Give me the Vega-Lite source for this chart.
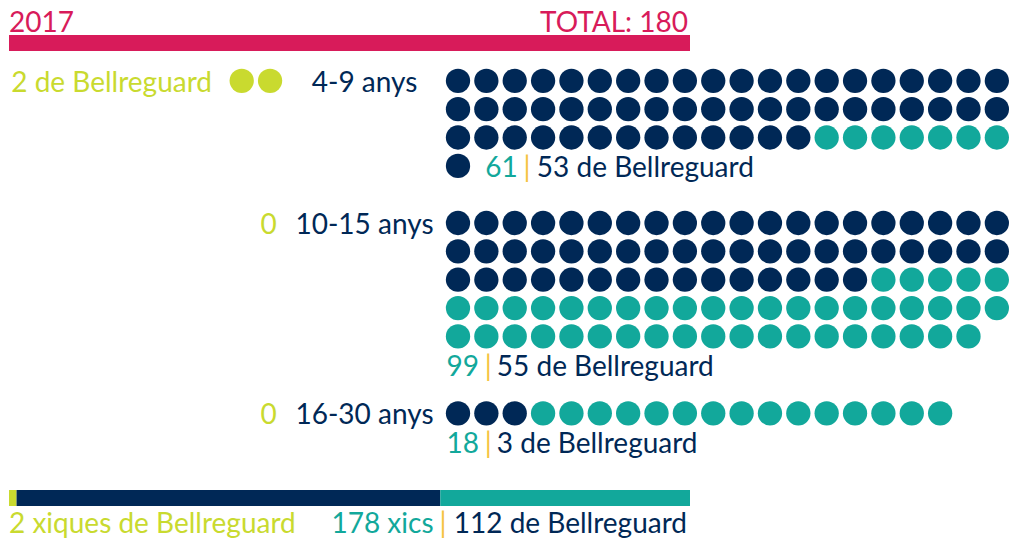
{
  "$schema": "https://vega.github.io/schema/vega-lite/v6.json",
  "background": "white",
  "padding": 0,
  "autosize": {"type": "pad"},
  "spacing": 0,
  "bounds": "flush",
  "config": {"view": {"stroke": null}, "font": "Lato"},
  "datasets": {
    "header": [{"year": "2017", "totalLabel": "TOTAL: 180", "total": 180}],
    "groups": [
      {"group": "4-9 anys", "girlsLabel": "2 de Bellreguard", "total": 61, "bellLabel": "53 de Bellreguard"},
      {"group": "10-15 anys", "girlsLabel": "0", "total": 99, "bellLabel": "55 de Bellreguard"},
      {"group": "16-30 anys", "girlsLabel": "0", "total": 18, "bellLabel": "3 de Bellreguard"}
    ],
    "girlsDots": [
      {"group": "4-9 anys", "row": 0, "col": 0, "origin": "Xiques"},
      {"group": "4-9 anys", "row": 0, "col": 1, "origin": "Xiques"}
    ],
    "segments": [
      {"origin": "Xiques", "n": 2, "order": 1},
      {"origin": "Bellreguard", "n": 112, "order": 2},
      {"origin": "Altres", "n": 66, "order": 3}
    ],
    "footer": [{"girlsLabel": "2 xiques de Bellreguard", "boysLabel": "178 xics", "boysBellLabel": "112 de Bellreguard", "total": 180}],
    "dots": [
      {"group":"4-9 anys","row":0,"col":0,"origin":"Bellreguard"},{"group":"4-9 anys","row":0,"col":1,"origin":"Bellreguard"},{"group":"4-9 anys","row":0,"col":2,"origin":"Bellreguard"},{"group":"4-9 anys","row":0,"col":3,"origin":"Bellreguard"},{"group":"4-9 anys","row":0,"col":4,"origin":"Bellreguard"},{"group":"4-9 anys","row":0,"col":5,"origin":"Bellreguard"},{"group":"4-9 anys","row":0,"col":6,"origin":"Bellreguard"},{"group":"4-9 anys","row":0,"col":7,"origin":"Bellreguard"},{"group":"4-9 anys","row":0,"col":8,"origin":"Bellreguard"},{"group":"4-9 anys","row":0,"col":9,"origin":"Bellreguard"},
      {"group":"4-9 anys","row":0,"col":10,"origin":"Bellreguard"},{"group":"4-9 anys","row":0,"col":11,"origin":"Bellreguard"},{"group":"4-9 anys","row":0,"col":12,"origin":"Bellreguard"},{"group":"4-9 anys","row":0,"col":13,"origin":"Bellreguard"},{"group":"4-9 anys","row":0,"col":14,"origin":"Bellreguard"},{"group":"4-9 anys","row":0,"col":15,"origin":"Bellreguard"},{"group":"4-9 anys","row":0,"col":16,"origin":"Bellreguard"},{"group":"4-9 anys","row":0,"col":17,"origin":"Bellreguard"},{"group":"4-9 anys","row":0,"col":18,"origin":"Bellreguard"},{"group":"4-9 anys","row":0,"col":19,"origin":"Bellreguard"},
      {"group":"4-9 anys","row":1,"col":0,"origin":"Bellreguard"},{"group":"4-9 anys","row":1,"col":1,"origin":"Bellreguard"},{"group":"4-9 anys","row":1,"col":2,"origin":"Bellreguard"},{"group":"4-9 anys","row":1,"col":3,"origin":"Bellreguard"},{"group":"4-9 anys","row":1,"col":4,"origin":"Bellreguard"},{"group":"4-9 anys","row":1,"col":5,"origin":"Bellreguard"},{"group":"4-9 anys","row":1,"col":6,"origin":"Bellreguard"},{"group":"4-9 anys","row":1,"col":7,"origin":"Bellreguard"},{"group":"4-9 anys","row":1,"col":8,"origin":"Bellreguard"},{"group":"4-9 anys","row":1,"col":9,"origin":"Bellreguard"},
      {"group":"4-9 anys","row":1,"col":10,"origin":"Bellreguard"},{"group":"4-9 anys","row":1,"col":11,"origin":"Bellreguard"},{"group":"4-9 anys","row":1,"col":12,"origin":"Bellreguard"},{"group":"4-9 anys","row":1,"col":13,"origin":"Bellreguard"},{"group":"4-9 anys","row":1,"col":14,"origin":"Bellreguard"},{"group":"4-9 anys","row":1,"col":15,"origin":"Bellreguard"},{"group":"4-9 anys","row":1,"col":16,"origin":"Bellreguard"},{"group":"4-9 anys","row":1,"col":17,"origin":"Bellreguard"},{"group":"4-9 anys","row":1,"col":18,"origin":"Bellreguard"},{"group":"4-9 anys","row":1,"col":19,"origin":"Bellreguard"},
      {"group":"4-9 anys","row":2,"col":0,"origin":"Bellreguard"},{"group":"4-9 anys","row":2,"col":1,"origin":"Bellreguard"},{"group":"4-9 anys","row":2,"col":2,"origin":"Bellreguard"},{"group":"4-9 anys","row":2,"col":3,"origin":"Bellreguard"},{"group":"4-9 anys","row":2,"col":4,"origin":"Bellreguard"},{"group":"4-9 anys","row":2,"col":5,"origin":"Bellreguard"},{"group":"4-9 anys","row":2,"col":6,"origin":"Bellreguard"},{"group":"4-9 anys","row":2,"col":7,"origin":"Bellreguard"},{"group":"4-9 anys","row":2,"col":8,"origin":"Bellreguard"},{"group":"4-9 anys","row":2,"col":9,"origin":"Bellreguard"},
      {"group":"4-9 anys","row":2,"col":10,"origin":"Bellreguard"},{"group":"4-9 anys","row":2,"col":11,"origin":"Bellreguard"},{"group":"4-9 anys","row":2,"col":12,"origin":"Bellreguard"},{"group":"4-9 anys","row":2,"col":13,"origin":"Altres"},{"group":"4-9 anys","row":2,"col":14,"origin":"Altres"},{"group":"4-9 anys","row":2,"col":15,"origin":"Altres"},{"group":"4-9 anys","row":2,"col":16,"origin":"Altres"},{"group":"4-9 anys","row":2,"col":17,"origin":"Altres"},{"group":"4-9 anys","row":2,"col":18,"origin":"Altres"},{"group":"4-9 anys","row":2,"col":19,"origin":"Altres"},
      {"group":"4-9 anys","row":3,"col":0,"origin":"Bellreguard"},
      {"group":"10-15 anys","row":0,"col":0,"origin":"Bellreguard"},{"group":"10-15 anys","row":0,"col":1,"origin":"Bellreguard"},{"group":"10-15 anys","row":0,"col":2,"origin":"Bellreguard"},{"group":"10-15 anys","row":0,"col":3,"origin":"Bellreguard"},{"group":"10-15 anys","row":0,"col":4,"origin":"Bellreguard"},{"group":"10-15 anys","row":0,"col":5,"origin":"Bellreguard"},{"group":"10-15 anys","row":0,"col":6,"origin":"Bellreguard"},{"group":"10-15 anys","row":0,"col":7,"origin":"Bellreguard"},{"group":"10-15 anys","row":0,"col":8,"origin":"Bellreguard"},{"group":"10-15 anys","row":0,"col":9,"origin":"Bellreguard"},
      {"group":"10-15 anys","row":0,"col":10,"origin":"Bellreguard"},{"group":"10-15 anys","row":0,"col":11,"origin":"Bellreguard"},{"group":"10-15 anys","row":0,"col":12,"origin":"Bellreguard"},{"group":"10-15 anys","row":0,"col":13,"origin":"Bellreguard"},{"group":"10-15 anys","row":0,"col":14,"origin":"Bellreguard"},{"group":"10-15 anys","row":0,"col":15,"origin":"Bellreguard"},{"group":"10-15 anys","row":0,"col":16,"origin":"Bellreguard"},{"group":"10-15 anys","row":0,"col":17,"origin":"Bellreguard"},{"group":"10-15 anys","row":0,"col":18,"origin":"Bellreguard"},{"group":"10-15 anys","row":0,"col":19,"origin":"Bellreguard"},
      {"group":"10-15 anys","row":1,"col":0,"origin":"Bellreguard"},{"group":"10-15 anys","row":1,"col":1,"origin":"Bellreguard"},{"group":"10-15 anys","row":1,"col":2,"origin":"Bellreguard"},{"group":"10-15 anys","row":1,"col":3,"origin":"Bellreguard"},{"group":"10-15 anys","row":1,"col":4,"origin":"Bellreguard"},{"group":"10-15 anys","row":1,"col":5,"origin":"Bellreguard"},{"group":"10-15 anys","row":1,"col":6,"origin":"Bellreguard"},{"group":"10-15 anys","row":1,"col":7,"origin":"Bellreguard"},{"group":"10-15 anys","row":1,"col":8,"origin":"Bellreguard"},{"group":"10-15 anys","row":1,"col":9,"origin":"Bellreguard"},
      {"group":"10-15 anys","row":1,"col":10,"origin":"Bellreguard"},{"group":"10-15 anys","row":1,"col":11,"origin":"Bellreguard"},{"group":"10-15 anys","row":1,"col":12,"origin":"Bellreguard"},{"group":"10-15 anys","row":1,"col":13,"origin":"Bellreguard"},{"group":"10-15 anys","row":1,"col":14,"origin":"Bellreguard"},{"group":"10-15 anys","row":1,"col":15,"origin":"Bellreguard"},{"group":"10-15 anys","row":1,"col":16,"origin":"Bellreguard"},{"group":"10-15 anys","row":1,"col":17,"origin":"Bellreguard"},{"group":"10-15 anys","row":1,"col":18,"origin":"Bellreguard"},{"group":"10-15 anys","row":1,"col":19,"origin":"Bellreguard"},
      {"group":"10-15 anys","row":2,"col":0,"origin":"Bellreguard"},{"group":"10-15 anys","row":2,"col":1,"origin":"Bellreguard"},{"group":"10-15 anys","row":2,"col":2,"origin":"Bellreguard"},{"group":"10-15 anys","row":2,"col":3,"origin":"Bellreguard"},{"group":"10-15 anys","row":2,"col":4,"origin":"Bellreguard"},{"group":"10-15 anys","row":2,"col":5,"origin":"Bellreguard"},{"group":"10-15 anys","row":2,"col":6,"origin":"Bellreguard"},{"group":"10-15 anys","row":2,"col":7,"origin":"Bellreguard"},{"group":"10-15 anys","row":2,"col":8,"origin":"Bellreguard"},{"group":"10-15 anys","row":2,"col":9,"origin":"Bellreguard"},
      {"group":"10-15 anys","row":2,"col":10,"origin":"Bellreguard"},{"group":"10-15 anys","row":2,"col":11,"origin":"Bellreguard"},{"group":"10-15 anys","row":2,"col":12,"origin":"Bellreguard"},{"group":"10-15 anys","row":2,"col":13,"origin":"Bellreguard"},{"group":"10-15 anys","row":2,"col":14,"origin":"Bellreguard"},{"group":"10-15 anys","row":2,"col":15,"origin":"Altres"},{"group":"10-15 anys","row":2,"col":16,"origin":"Altres"},{"group":"10-15 anys","row":2,"col":17,"origin":"Altres"},{"group":"10-15 anys","row":2,"col":18,"origin":"Altres"},{"group":"10-15 anys","row":2,"col":19,"origin":"Altres"},
      {"group":"10-15 anys","row":3,"col":0,"origin":"Altres"},{"group":"10-15 anys","row":3,"col":1,"origin":"Altres"},{"group":"10-15 anys","row":3,"col":2,"origin":"Altres"},{"group":"10-15 anys","row":3,"col":3,"origin":"Altres"},{"group":"10-15 anys","row":3,"col":4,"origin":"Altres"},{"group":"10-15 anys","row":3,"col":5,"origin":"Altres"},{"group":"10-15 anys","row":3,"col":6,"origin":"Altres"},{"group":"10-15 anys","row":3,"col":7,"origin":"Altres"},{"group":"10-15 anys","row":3,"col":8,"origin":"Altres"},{"group":"10-15 anys","row":3,"col":9,"origin":"Altres"},
      {"group":"10-15 anys","row":3,"col":10,"origin":"Altres"},{"group":"10-15 anys","row":3,"col":11,"origin":"Altres"},{"group":"10-15 anys","row":3,"col":12,"origin":"Altres"},{"group":"10-15 anys","row":3,"col":13,"origin":"Altres"},{"group":"10-15 anys","row":3,"col":14,"origin":"Altres"},{"group":"10-15 anys","row":3,"col":15,"origin":"Altres"},{"group":"10-15 anys","row":3,"col":16,"origin":"Altres"},{"group":"10-15 anys","row":3,"col":17,"origin":"Altres"},{"group":"10-15 anys","row":3,"col":18,"origin":"Altres"},{"group":"10-15 anys","row":3,"col":19,"origin":"Altres"},
      {"group":"10-15 anys","row":4,"col":0,"origin":"Altres"},{"group":"10-15 anys","row":4,"col":1,"origin":"Altres"},{"group":"10-15 anys","row":4,"col":2,"origin":"Altres"},{"group":"10-15 anys","row":4,"col":3,"origin":"Altres"},{"group":"10-15 anys","row":4,"col":4,"origin":"Altres"},{"group":"10-15 anys","row":4,"col":5,"origin":"Altres"},{"group":"10-15 anys","row":4,"col":6,"origin":"Altres"},{"group":"10-15 anys","row":4,"col":7,"origin":"Altres"},{"group":"10-15 anys","row":4,"col":8,"origin":"Altres"},{"group":"10-15 anys","row":4,"col":9,"origin":"Altres"},
      {"group":"10-15 anys","row":4,"col":10,"origin":"Altres"},{"group":"10-15 anys","row":4,"col":11,"origin":"Altres"},{"group":"10-15 anys","row":4,"col":12,"origin":"Altres"},{"group":"10-15 anys","row":4,"col":13,"origin":"Altres"},{"group":"10-15 anys","row":4,"col":14,"origin":"Altres"},{"group":"10-15 anys","row":4,"col":15,"origin":"Altres"},{"group":"10-15 anys","row":4,"col":16,"origin":"Altres"},{"group":"10-15 anys","row":4,"col":17,"origin":"Altres"},{"group":"10-15 anys","row":4,"col":18,"origin":"Altres"},
      {"group":"16-30 anys","row":0,"col":0,"origin":"Bellreguard"},{"group":"16-30 anys","row":0,"col":1,"origin":"Bellreguard"},{"group":"16-30 anys","row":0,"col":2,"origin":"Bellreguard"},{"group":"16-30 anys","row":0,"col":3,"origin":"Altres"},{"group":"16-30 anys","row":0,"col":4,"origin":"Altres"},{"group":"16-30 anys","row":0,"col":5,"origin":"Altres"},{"group":"16-30 anys","row":0,"col":6,"origin":"Altres"},{"group":"16-30 anys","row":0,"col":7,"origin":"Altres"},{"group":"16-30 anys","row":0,"col":8,"origin":"Altres"},{"group":"16-30 anys","row":0,"col":9,"origin":"Altres"},
      {"group":"16-30 anys","row":0,"col":10,"origin":"Altres"},{"group":"16-30 anys","row":0,"col":11,"origin":"Altres"},{"group":"16-30 anys","row":0,"col":12,"origin":"Altres"},{"group":"16-30 anys","row":0,"col":13,"origin":"Altres"},{"group":"16-30 anys","row":0,"col":14,"origin":"Altres"},{"group":"16-30 anys","row":0,"col":15,"origin":"Altres"},{"group":"16-30 anys","row":0,"col":16,"origin":"Altres"},{"group":"16-30 anys","row":0,"col":17,"origin":"Altres"}
    ]
  },
  "vconcat": [
    {
      "width": 1015, "height": 35,
      "data": {"name": "header"},
      "layer": [
        {"mark": {"type": "text", "font": "Lato", "fontSize": 28, "color": "#D81B5A", "align": "left", "baseline": "alphabetic", "dy": 14.8},
         "encoding": {"x": {"datum": 0, "type": "quantitative", "scale": {"domain": [-2.3789, 265.903], "nice": false, "zero": false}, "axis": null}, "text": {"field": "year", "type": "nominal"}}},
        {"mark": {"type": "text", "font": "Lato", "fontSize": 28, "color": "#D81B5A", "align": "right", "baseline": "alphabetic", "dy": 14.8, "dx": -2},
         "encoding": {"x": {"field": "total", "type": "quantitative", "scale": {"domain": [-2.3789, 265.903], "nice": false, "zero": false}, "axis": null}, "text": {"field": "totalLabel", "type": "nominal"}}}
      ]
    },
    {
      "width": 1015, "height": 16,
      "data": {"name": "header"},
      "transform": [{"stack": "total", "groupby": [], "as": ["x0", "x1"]}],
      "mark": {"type": "rect", "color": "#D81B5A"},
      "encoding": {"x": {"field": "x0", "type": "quantitative", "scale": {"domain": [-2.3789, 265.903], "nice": false, "zero": false}, "axis": null}, "x2": {"field": "x1"}}
    },
    {
      "width": 1015, "height": 143.5,
      "layer": [
        {"data": {"name": "dots"}, "transform": [{"filter": "datum.group === '4-9 anys'"}],
         "mark": {"type": "point", "filled": true, "opacity": 1, "size": 590},
         "encoding": {
           "x": {"field": "col", "type": "quantitative", "scale": {"domain": [-16.1495, 19.6403], "nice": false, "zero": false}, "axis": null},
           "y": {"field": "row", "type": "quantitative", "scale": {"domain": [-1.0508, 4.0092], "nice": false, "zero": false, "reverse": true}, "axis": null},
           "color": {"field": "origin", "type": "nominal", "scale": {"domain": ["Bellreguard", "Altres", "Xiques"], "range": ["#002856", "#12A89B", "#C9DA2F"]}, "legend": null}}},
        {"data": {"name": "girlsDots"}, "transform": [{"filter": "datum.group === '4-9 anys'"}],
         "mark": {"type": "point", "filled": true, "opacity": 1, "size": 590, "xOffset": -216.3},
         "encoding": {
           "x": {"field": "col", "type": "quantitative", "scale": {"domain": [-16.1495, 19.6403], "nice": false, "zero": false}, "axis": null},
           "y": {"field": "row", "type": "quantitative", "scale": {"domain": [-1.0508, 4.0092], "nice": false, "zero": false, "reverse": true}, "axis": null},
           "color": {"field": "origin", "type": "nominal", "scale": {"domain": ["Bellreguard", "Altres", "Xiques"], "range": ["#002856", "#12A89B", "#C9DA2F"]}, "legend": null}}},
        {"data": {"name": "groups"}, "transform": [{"filter": "datum.group === '4-9 anys'"}],
         "mark": {"type": "text", "font": "Lato", "fontSize": 28, "color": "#002856", "align": "center", "baseline": "alphabetic", "dx": -93.5, "dy": 11},
         "encoding": {"x": {"datum": 0, "type": "quantitative", "scale": {"domain": [-16.1495, 19.6403], "nice": false, "zero": false}, "axis": null}, "y": {"datum": 0, "type": "quantitative", "scale": {"domain": [-1.0508, 4.0092], "nice": false, "zero": false, "reverse": true}, "axis": null}, "text": {"field": "group", "type": "nominal"}}},
        {"data": {"name": "groups"}, "transform": [{"filter": "datum.group === '4-9 anys'"}],
         "mark": {"type": "text", "font": "Lato", "fontSize": 28, "color": "#C9DA2F", "align": "right", "baseline": "alphabetic", "dx": -246, "dy": 11},
         "encoding": {"x": {"datum": 0, "type": "quantitative", "scale": {"domain": [-16.1495, 19.6403], "nice": false, "zero": false}, "axis": null}, "y": {"datum": 0, "type": "quantitative", "scale": {"domain": [-1.0508, 4.0092], "nice": false, "zero": false, "reverse": true}, "axis": null}, "text": {"field": "girlsLabel", "type": "nominal"}}},
        {"data": {"name": "groups"}, "transform": [{"filter": "datum.group === '4-9 anys'"}],
         "mark": {"type": "text", "font": "Lato", "fontSize": 28, "color": "#12A89B", "align": "left", "baseline": "alphabetic", "dx": -1, "dy": 11},
         "encoding": {"x": {"datum": 1, "type": "quantitative", "scale": {"domain": [-16.1495, 19.6403], "nice": false, "zero": false}, "axis": null}, "y": {"datum": 3, "type": "quantitative", "scale": {"domain": [-1.0508, 4.0092], "nice": false, "zero": false, "reverse": true}, "axis": null}, "text": {"field": "total", "type": "nominal"}}},
        {"data": {"name": "groups"}, "transform": [{"filter": "datum.group === '4-9 anys'"}],
         "mark": {"type": "text", "font": "Lato", "fontSize": 28, "color": "#F5C342", "align": "center", "baseline": "alphabetic", "dx": 40.6, "dy": 11},
         "encoding": {"x": {"datum": 1, "type": "quantitative", "scale": {"domain": [-16.1495, 19.6403], "nice": false, "zero": false}, "axis": null}, "y": {"datum": 3, "type": "quantitative", "scale": {"domain": [-1.0508, 4.0092], "nice": false, "zero": false, "reverse": true}, "axis": null}, "text": {"value": "|"}}},
        {"data": {"name": "groups"}, "transform": [{"filter": "datum.group === '4-9 anys'"}],
         "mark": {"type": "text", "font": "Lato", "fontSize": 28, "color": "#002856", "align": "left", "baseline": "alphabetic", "dx": 50.5, "dy": 11},
         "encoding": {"x": {"datum": 1, "type": "quantitative", "scale": {"domain": [-16.1495, 19.6403], "nice": false, "zero": false}, "axis": null}, "y": {"datum": 3, "type": "quantitative", "scale": {"domain": [-1.0508, 4.0092], "nice": false, "zero": false, "reverse": true}, "axis": null}, "text": {"field": "bellLabel", "type": "nominal"}}}
      ]
    },
    {
      "width": 1015, "height": 190,
      "layer": [
        {"data": {"name": "dots"}, "transform": [{"filter": "datum.group === '10-15 anys'"}],
         "mark": {"type": "point", "filled": true, "opacity": 1, "size": 590},
         "encoding": {
           "x": {"field": "col", "type": "quantitative", "scale": {"domain": [-16.1495, 19.6403], "nice": false, "zero": false}, "axis": null},
           "y": {"field": "row", "type": "quantitative", "scale": {"domain": [-0.9873, 5.7123], "nice": false, "zero": false, "reverse": true}, "axis": null},
           "color": {"field": "origin", "type": "nominal", "scale": {"domain": ["Bellreguard", "Altres", "Xiques"], "range": ["#002856", "#12A89B", "#C9DA2F"]}, "legend": null}}},
        {"data": {"name": "groups"}, "transform": [{"filter": "datum.group === '10-15 anys'"}],
         "mark": {"type": "text", "font": "Lato", "fontSize": 28, "color": "#002856", "align": "center", "baseline": "alphabetic", "dx": -93.5, "dy": 11},
         "encoding": {"x": {"datum": 0, "type": "quantitative", "scale": {"domain": [-16.1495, 19.6403], "nice": false, "zero": false}, "axis": null}, "y": {"datum": 0, "type": "quantitative", "scale": {"domain": [-0.9873, 5.7123], "nice": false, "zero": false, "reverse": true}, "axis": null}, "text": {"field": "group", "type": "nominal"}}},
        {"data": {"name": "groups"}, "transform": [{"filter": "datum.group === '10-15 anys'"}],
         "mark": {"type": "text", "font": "Lato", "fontSize": 28, "color": "#C9DA2F", "align": "center", "baseline": "alphabetic", "dx": -189.3, "dy": 11},
         "encoding": {"x": {"datum": 0, "type": "quantitative", "scale": {"domain": [-16.1495, 19.6403], "nice": false, "zero": false}, "axis": null}, "y": {"datum": 0, "type": "quantitative", "scale": {"domain": [-0.9873, 5.7123], "nice": false, "zero": false, "reverse": true}, "axis": null}, "text": {"field": "girlsLabel", "type": "nominal"}}},
        {"data": {"name": "groups"}, "transform": [{"filter": "datum.group === '10-15 anys'"}],
         "mark": {"type": "text", "font": "Lato", "fontSize": 28, "color": "#12A89B", "align": "left", "baseline": "alphabetic", "dx": -11.5, "dy": 11},
         "encoding": {"x": {"datum": 0, "type": "quantitative", "scale": {"domain": [-16.1495, 19.6403], "nice": false, "zero": false}, "axis": null}, "y": {"datum": 5, "type": "quantitative", "scale": {"domain": [-0.9873, 5.7123], "nice": false, "zero": false, "reverse": true}, "axis": null}, "text": {"field": "total", "type": "nominal"}}},
        {"data": {"name": "groups"}, "transform": [{"filter": "datum.group === '10-15 anys'"}],
         "mark": {"type": "text", "font": "Lato", "fontSize": 28, "color": "#F5C342", "align": "center", "baseline": "alphabetic", "dx": 30.3, "dy": 11},
         "encoding": {"x": {"datum": 0, "type": "quantitative", "scale": {"domain": [-16.1495, 19.6403], "nice": false, "zero": false}, "axis": null}, "y": {"datum": 5, "type": "quantitative", "scale": {"domain": [-0.9873, 5.7123], "nice": false, "zero": false, "reverse": true}, "axis": null}, "text": {"value": "|"}}},
        {"data": {"name": "groups"}, "transform": [{"filter": "datum.group === '10-15 anys'"}],
         "mark": {"type": "text", "font": "Lato", "fontSize": 28, "color": "#002856", "align": "left", "baseline": "alphabetic", "dx": 38.8, "dy": 11},
         "encoding": {"x": {"datum": 0, "type": "quantitative", "scale": {"domain": [-16.1495, 19.6403], "nice": false, "zero": false}, "axis": null}, "y": {"datum": 5, "type": "quantitative", "scale": {"domain": [-0.9873, 5.7123], "nice": false, "zero": false, "reverse": true}, "axis": null}, "text": {"field": "bellLabel", "type": "nominal"}}}
      ]
    },
    {
      "width": 1015, "height": 104.5,
      "layer": [
        {"data": {"name": "dots"}, "transform": [{"filter": "datum.group === '16-30 anys'"}],
         "mark": {"type": "point", "filled": true, "opacity": 1, "size": 590},
         "encoding": {
           "x": {"field": "col", "type": "quantitative", "scale": {"domain": [-16.1495, 19.6403], "nice": false, "zero": false}, "axis": null},
           "y": {"field": "row", "type": "quantitative", "scale": {"domain": [-0.9979, 2.6869], "nice": false, "zero": false, "reverse": true}, "axis": null},
           "color": {"field": "origin", "type": "nominal", "scale": {"domain": ["Bellreguard", "Altres", "Xiques"], "range": ["#002856", "#12A89B", "#C9DA2F"]}, "legend": null}}},
        {"data": {"name": "groups"}, "transform": [{"filter": "datum.group === '16-30 anys'"}],
         "mark": {"type": "text", "font": "Lato", "fontSize": 28, "color": "#002856", "align": "center", "baseline": "alphabetic", "dx": -93.5, "dy": 11},
         "encoding": {"x": {"datum": 0, "type": "quantitative", "scale": {"domain": [-16.1495, 19.6403], "nice": false, "zero": false}, "axis": null}, "y": {"datum": 0, "type": "quantitative", "scale": {"domain": [-0.9979, 2.6869], "nice": false, "zero": false, "reverse": true}, "axis": null}, "text": {"field": "group", "type": "nominal"}}},
        {"data": {"name": "groups"}, "transform": [{"filter": "datum.group === '16-30 anys'"}],
         "mark": {"type": "text", "font": "Lato", "fontSize": 28, "color": "#C9DA2F", "align": "center", "baseline": "alphabetic", "dx": -189.3, "dy": 11},
         "encoding": {"x": {"datum": 0, "type": "quantitative", "scale": {"domain": [-16.1495, 19.6403], "nice": false, "zero": false}, "axis": null}, "y": {"datum": 0, "type": "quantitative", "scale": {"domain": [-0.9979, 2.6869], "nice": false, "zero": false, "reverse": true}, "axis": null}, "text": {"field": "girlsLabel", "type": "nominal"}}},
        {"data": {"name": "groups"}, "transform": [{"filter": "datum.group === '16-30 anys'"}],
         "mark": {"type": "text", "font": "Lato", "fontSize": 28, "color": "#12A89B", "align": "left", "baseline": "alphabetic", "dx": -11.5, "dy": 11},
         "encoding": {"x": {"datum": 0, "type": "quantitative", "scale": {"domain": [-16.1495, 19.6403], "nice": false, "zero": false}, "axis": null}, "y": {"datum": 1, "type": "quantitative", "scale": {"domain": [-0.9979, 2.6869], "nice": false, "zero": false, "reverse": true}, "axis": null}, "text": {"field": "total", "type": "nominal"}}},
        {"data": {"name": "groups"}, "transform": [{"filter": "datum.group === '16-30 anys'"}],
         "mark": {"type": "text", "font": "Lato", "fontSize": 28, "color": "#F5C342", "align": "center", "baseline": "alphabetic", "dx": 30.3, "dy": 11},
         "encoding": {"x": {"datum": 0, "type": "quantitative", "scale": {"domain": [-16.1495, 19.6403], "nice": false, "zero": false}, "axis": null}, "y": {"datum": 1, "type": "quantitative", "scale": {"domain": [-0.9979, 2.6869], "nice": false, "zero": false, "reverse": true}, "axis": null}, "text": {"value": "|"}}},
        {"data": {"name": "groups"}, "transform": [{"filter": "datum.group === '16-30 anys'"}],
         "mark": {"type": "text", "font": "Lato", "fontSize": 28, "color": "#002856", "align": "left", "baseline": "alphabetic", "dx": 38.8, "dy": 11},
         "encoding": {"x": {"datum": 0, "type": "quantitative", "scale": {"domain": [-16.1495, 19.6403], "nice": false, "zero": false}, "axis": null}, "y": {"datum": 1, "type": "quantitative", "scale": {"domain": [-0.9979, 2.6869], "nice": false, "zero": false, "reverse": true}, "axis": null}, "text": {"field": "bellLabel", "type": "nominal"}}}
      ]
    },
    {
      "width": 1015, "height": 16,
      "data": {"name": "segments"},
      "transform": [{"stack": "n", "groupby": [], "sort": [{"field": "order", "order": "ascending"}], "as": ["x0", "x1"]}],
      "mark": {"type": "rect"},
      "encoding": {
        "x": {"field": "x0", "type": "quantitative", "scale": {"domain": [-2.3789, 265.903], "nice": false, "zero": false}, "axis": null},
        "x2": {"field": "x1"},
        "color": {"field": "origin", "type": "nominal", "scale": {"domain": ["Bellreguard", "Altres", "Xiques"], "range": ["#002856", "#12A89B", "#C9DA2F"]}, "legend": null}}
    },
    {
      "width": 1015, "height": 38,
      "data": {"name": "footer"},
      "layer": [
        {"mark": {"type": "text", "font": "Lato", "fontSize": 28, "color": "#C9DA2F", "align": "left", "baseline": "alphabetic", "dy": 7.7},
         "encoding": {"x": {"datum": 0, "type": "quantitative", "scale": {"domain": [-2.3789, 265.903], "nice": false, "zero": false}, "axis": null}, "text": {"field": "girlsLabel", "type": "nominal"}}},
        {"mark": {"type": "text", "font": "Lato", "fontSize": 28, "color": "#12A89B", "align": "right", "baseline": "alphabetic", "dy": 7.7, "dx": -256.5},
         "encoding": {"x": {"field": "total", "type": "quantitative", "scale": {"domain": [-2.3789, 265.903], "nice": false, "zero": false}, "axis": null}, "text": {"field": "boysLabel", "type": "nominal"}}},
        {"mark": {"type": "text", "font": "Lato", "fontSize": 28, "color": "#F5C342", "align": "center", "baseline": "alphabetic", "dy": 7.7, "dx": -247},
         "encoding": {"x": {"field": "total", "type": "quantitative", "scale": {"domain": [-2.3789, 265.903], "nice": false, "zero": false}, "axis": null}, "text": {"value": "|"}}},
        {"mark": {"type": "text", "font": "Lato", "fontSize": 28, "color": "#002856", "align": "right", "baseline": "alphabetic", "dy": 7.7, "dx": -3},
         "encoding": {"x": {"field": "total", "type": "quantitative", "scale": {"domain": [-2.3789, 265.903], "nice": false, "zero": false}, "axis": null}, "text": {"field": "boysBellLabel", "type": "nominal"}}}
      ]
    }
  ]
}
